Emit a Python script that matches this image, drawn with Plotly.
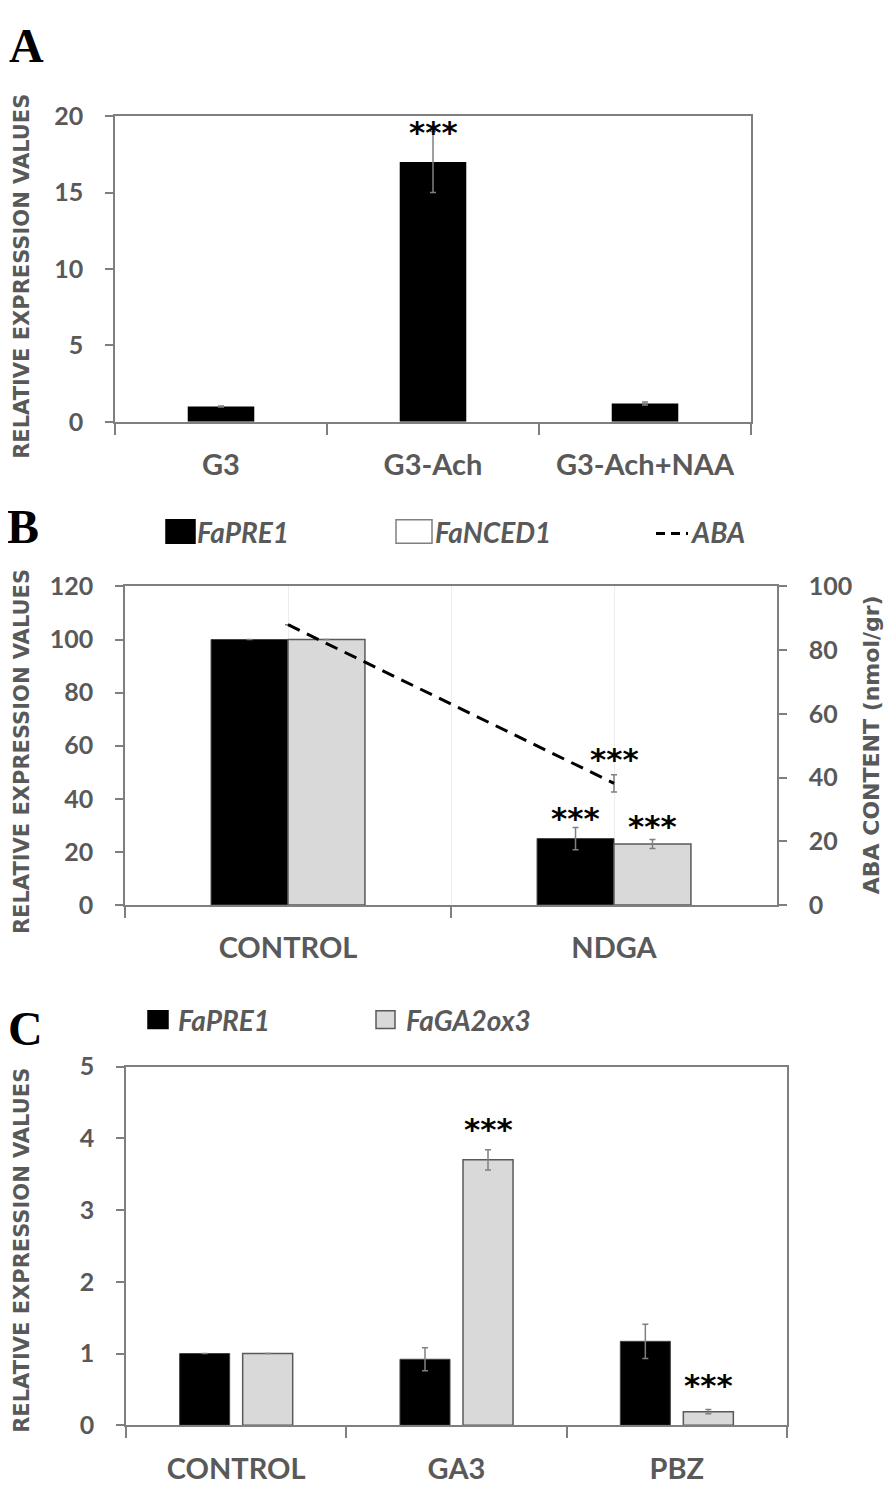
import plotly.graph_objects as go

# ---------------- data ----------------
cats_a = ["G3", "G3-Ach", "G3-Ach+NAA"]
expr_a = [1.0, 17.0, 1.2]
err_a = [0.03, 2.0, 0.1]

cats_b = ["CONTROL", "NDGA"]
pre1_b = [100, 25]
pre1_b_err = [0, 4.2]
nced1_b = [100, 23]
nced1_b_err = [0, 1.7]
aba_b = [88, 38.2]
aba_b_err = [0, 2.7]

cats_c = ["CONTROL", "GA3", "PBZ"]
pre1_c = [1.0, 0.92, 1.17]
pre1_c_err = [0.0, 0.16, 0.24]
ga2ox3_c = [1.0, 3.70, 0.19]
ga2ox3_c_err = [0.0, 0.14, 0.03]

# significance marks: (category, series, y position of the mark in data units)
stars_a = [("G3-Ach", 19.35)]
stars_b = [("NDGA", "pre1", 35.1), ("NDGA", "nced1", 32.1)]
stars_b_aba = [("NDGA", 47.7)]
stars_c = [("GA3", "ga2ox3", 4.22), ("PBZ", "ga2ox3", 0.65)]

# ---------------- styling ----------------
# the page body has an 8px margin, so the figure is made 16px smaller and
# reference pixel positions are shifted by 8px
OFF = 8
FW, FH = 894 - 2 * OFF, 1509 - 2 * OFF
AX = "#7f7f7f"
TXT = "#595959"
LIGHT = "#d9d9d9"
ERR = dict(type="data", color="#808080", thickness=1.5, width=3)


def px_x(p):
    return (p - OFF) / FW


def px_y(p):
    return 1 - (p - OFF) / FH


dom = {
    "A": ([115, 751], [102, 414]),
    "B": ([125, 777], [582, 907]),
    "C": ([126, 787], [1072, 1438]),
}


def xdom(k):
    a, b = dom[k][0]
    return [px_x(a), px_x(b)]


def ydom(k):
    a, b = dom[k][1]
    return [px_y(b), px_y(a)]


tick_font = dict(family="Lato", size=25, color=TXT, weight="bold")
cat_font = dict(family="Lato", size=29, color=TXT, weight="bold")


def xax(k, cats, anchor):
    return dict(domain=xdom(k), anchor=anchor, type="category", categoryorder="array",
                categoryarray=cats, range=[-0.5, len(cats) - 0.5],
                showline=True, linecolor=AX, linewidth=1.5, mirror=True,
                ticks="outside", tickson="boundaries", ticklen=11, tickcolor=AX, tickwidth=1.5,
                tickfont=cat_font, ticklabelstandoff=17, showgrid=False, zeroline=False)


def yax(k, rng, dtick, anchor, mirror=True):
    return dict(domain=ydom(k), anchor=anchor, range=rng, dtick=dtick,
                showline=True, linecolor=AX, linewidth=1.5, mirror=mirror,
                ticks="outside", ticklen=8, tickcolor=AX, tickwidth=1.5,
                tickfont=tick_font, ticklabelstandoff=17, showgrid=False, zeroline=False)


fig = go.Figure()

# ---- Panel A ----
fig.add_trace(go.Bar(x=cats_a, y=expr_a, width=0.314, marker=dict(color="black", line=dict(width=0)),
                     error_y=dict(array=err_a, **ERR), xaxis="x", yaxis="y", showlegend=False))

# ---- Panel B ----
bw_b = 0.236
fig.add_trace(go.Bar(x=cats_b, y=pre1_b, width=bw_b, offset=-bw_b,
                     marker=dict(color="black", line=dict(color="#404040", width=1)),
                     error_y=dict(array=pre1_b_err, **ERR), xaxis="x2", yaxis="y2", showlegend=False))
fig.add_trace(go.Bar(x=cats_b, y=nced1_b, width=bw_b, offset=0,
                     marker=dict(color=LIGHT, line=dict(color="#595959", width=1.5)),
                     error_y=dict(array=nced1_b_err, **ERR), xaxis="x2", yaxis="y2", showlegend=False))
fig.add_trace(go.Scatter(x=cats_b, y=aba_b, mode="lines",
                         line=dict(color="black", width=3, dash="13px,8px"),
                         error_y=dict(array=aba_b_err, **ERR), xaxis="x4", yaxis="y4", showlegend=False))

# ---- Panel C ----
bw_c = 0.227
gap_c = 0.0295
fig.add_trace(go.Bar(x=cats_c, y=pre1_c, width=bw_c, offset=-gap_c - bw_c,
                     marker=dict(color="black", line=dict(color="#404040", width=1)),
                     error_y=dict(array=pre1_c_err, **ERR), xaxis="x3", yaxis="y3", showlegend=False))
fig.add_trace(go.Bar(x=cats_c, y=ga2ox3_c, width=bw_c, offset=gap_c,
                     marker=dict(color=LIGHT, line=dict(color="#595959", width=1.5)),
                     error_y=dict(array=ga2ox3_c_err, **ERR), xaxis="x3", yaxis="y3", showlegend=False))

layout = dict(
    width=FW, height=FH, autosize=False,
    margin=dict(l=0, r=0, t=0, b=0),
    paper_bgcolor="white", plot_bgcolor="white",
    barmode="overlay",
    xaxis=xax("A", cats_a, "y"),
    yaxis=yax("A", [0, 20], 5, "x"),
    xaxis2=xax("B", cats_b, "y2"),
    yaxis2=yax("B", [0, 120], 20, "x2", mirror=False),
    xaxis3=xax("C", cats_c, "y3"),
    yaxis3=yax("C", [0, 5], 1, "x3"),
)
layout["xaxis2"].update(showgrid=True, gridcolor="#ececec", gridwidth=1)
layout["xaxis4"] = dict(overlaying="x2", anchor="y4", type="category", categoryorder="array",
                        categoryarray=cats_b, range=[-0.5, 1.5], showgrid=True, gridcolor="#ececec",
                        gridwidth=1, showline=False, ticks="", showticklabels=False, zeroline=False)
layout["yaxis4"] = dict(overlaying="y2", side="right", anchor="x2", range=[0, 100], dtick=20,
                        showline=True, linecolor=AX, linewidth=1.5, ticks="outside", ticklen=8,
                        tickcolor=AX, tickwidth=1.5, tickfont=tick_font, ticklabelstandoff=17,
                        showgrid=False, zeroline=False)
fig.update_layout(**layout)

ann = []
shapes = []
star_font = dict(family="DejaVu Sans", size=31, color="black", weight="bold")
STAR_SHIFT = -6

for cat, yv in stars_a:
    ann.append(dict(x=cat, y=yv, xref="x", yref="y", text="***", showarrow=False,
                    font=star_font, yanchor="middle", yshift=STAR_SHIFT))

shift_b = (bw_b / 2) * (dom["B"][0][1] - dom["B"][0][0]) / len(cats_b)
for cat, ser, yv in stars_b:
    ann.append(dict(x=cat, y=yv, xref="x2", yref="y2", text="***", showarrow=False,
                    font=star_font, yanchor="middle", yshift=STAR_SHIFT,
                    xshift=-shift_b if ser == "pre1" else shift_b))
for cat, yv in stars_b_aba:
    ann.append(dict(x=cat, y=yv, xref="x2", yref="y4", text="***", showarrow=False,
                    font=star_font, yanchor="middle", yshift=STAR_SHIFT))

shift_c = (gap_c + bw_c / 2) * (dom["C"][0][1] - dom["C"][0][0]) / len(cats_c)
for cat, ser, yv in stars_c:
    ann.append(dict(x=cat, y=yv, xref="x3", yref="y3", text="***", showarrow=False,
                    font=star_font, yanchor="middle", yshift=STAR_SHIFT,
                    xshift=shift_c if ser == "ga2ox3" else -shift_c))

# panel letters
letter_font = dict(family="Liberation Serif", size=48, color="black", weight="bold")
for t, (lx, ly) in {"A": (26, 30), "B": (23, 521), "C": (25, 1033)}.items():
    ann.append(dict(x=px_x(lx), y=px_y(ly), xref="paper", yref="paper", text=t, showarrow=False,
                    font=letter_font, xanchor="center", yanchor="middle"))

# axis titles
title_font = dict(family="DejaVu Sans", size=21, color=TXT, weight="bold")
for cy in (266, 751, 1260):
    ann.append(dict(x=px_x(22), y=px_y(cy), xref="paper", yref="paper",
                    text="RELATIVE EXPRESSION VALUES", textangle=-90, showarrow=False,
                    font=title_font, xanchor="center", yanchor="middle"))
ann.append(dict(x=px_x(871), y=px_y(744), xref="paper", yref="paper",
                text="ABA CONTENT (nmol/gr)", textangle=-90, showarrow=False,
                font=dict(family="DejaVu Sans", size=22, color=TXT, weight="bold"),
                xanchor="center", yanchor="middle"))

# legends (panel B and C)
leg_font = dict(family="Lato", size=28, color=TXT, weight="bold", style="italic")


def legend_box(x0, x1, yc, h, fill, line_color):
    shapes.append(dict(type="rect", xref="paper", yref="paper",
                       x0=px_x(x0), x1=px_x(x1), y0=px_y(yc + h / 2), y1=px_y(yc - h / 2),
                       fillcolor=fill, line=dict(color=line_color, width=1.5)))


def legend_text(x0, yc, text):
    ann.append(dict(x=px_x(x0), y=px_y(yc), xref="paper", yref="paper", text=text,
                    showarrow=False, font=leg_font, xanchor="left", yanchor="middle"))


legend_box(166, 195, 526, 24, "black", "black")
legend_text(195, 526, "FaPRE1")
legend_box(396, 432, 526, 24, "white", "#808080")
legend_text(433, 526, "FaNCED1")
shapes.append(dict(type="line", xref="paper", yref="paper", x0=px_x(656), x1=px_x(688),
                   y0=px_y(528), y1=px_y(528), line=dict(color="black", width=3, dash="9px,6px")))
legend_text(688, 526, "ABA")

legend_box(148, 168, 1024, 18, "black", "black")
legend_text(176, 1024, "FaPRE1")
legend_box(376, 395, 1024, 18, LIGHT, "#595959")
legend_text(404, 1024, "FaGA2ox3")

fig.update_layout(annotations=ann, shapes=shapes)
fig.write_html("out.html")
